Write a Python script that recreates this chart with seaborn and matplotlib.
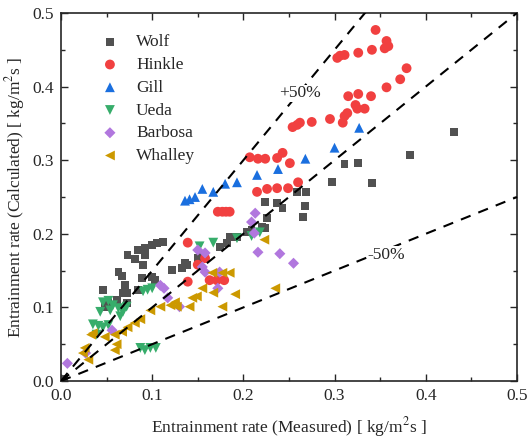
import seaborn as sns
import matplotlib.pyplot as plt
import pandas as pd
from matplotlib.ticker import MultipleLocator

wolf_x = [0.112, 0.105, 0.100, 0.092, 0.084, 0.073, 0.081, 0.092, 0.090, 0.063, 0.067, 0.046,
          0.070, 0.068, 0.048, 0.061, 0.052, 0.072, 0.122, 0.133, 0.138, 0.150, 0.155, 0.103,
          0.100, 0.089, 0.084, 0.073, 0.136, 0.174, 0.182, 0.185, 0.193, 0.204, 0.209, 0.224,
          0.226, 0.220, 0.224, 0.237, 0.243, 0.259, 0.269, 0.265, 0.268, 0.297, 0.341, 0.311,
          0.326, 0.383, 0.431, 0.003]
wolf_y = [0.189, 0.188, 0.185, 0.181, 0.178, 0.171, 0.166, 0.171, 0.158, 0.148, 0.143, 0.124,
          0.130, 0.120, 0.101, 0.110, 0.106, 0.106, 0.151, 0.154, 0.158, 0.167, 0.171, 0.137,
          0.141, 0.140, 0.124, 0.120, 0.160, 0.182, 0.188, 0.196, 0.196, 0.202, 0.205, 0.208,
          0.221, 0.209, 0.243, 0.242, 0.235, 0.257, 0.257, 0.223, 0.238, 0.270, 0.269, 0.295,
          0.296, 0.307, 0.338, 0.003]

hinkle_x = [0.345, 0.357, 0.359, 0.355, 0.341, 0.326, 0.311, 0.306, 0.303,
            0.379, 0.372, 0.357, 0.340, 0.326, 0.315, 0.323, 0.333, 0.325, 0.314, 0.311,
            0.309, 0.295, 0.275, 0.262, 0.259, 0.254,
            0.207, 0.216, 0.224, 0.237, 0.243, 0.251,
            0.215, 0.226, 0.237, 0.249, 0.260,
            0.172, 0.177, 0.181, 0.185,
            0.139, 0.139, 0.150, 0.158, 0.163, 0.171, 0.179]
hinkle_y = [0.477, 0.462, 0.455, 0.452, 0.450, 0.446, 0.443, 0.442, 0.439,
            0.425, 0.410, 0.399, 0.387, 0.390, 0.387, 0.375, 0.370, 0.370, 0.364, 0.360,
            0.351, 0.356, 0.352, 0.351, 0.348, 0.345,
            0.304, 0.302, 0.302, 0.303, 0.310, 0.296,
            0.257, 0.261, 0.262, 0.262, 0.270,
            0.230, 0.230, 0.230, 0.230,
            0.188, 0.135, 0.158, 0.167, 0.137, 0.137, 0.137]

gill_x = [0.136, 0.141, 0.147, 0.155, 0.167, 0.180, 0.193, 0.215, 0.238, 0.268, 0.300, 0.327]
gill_y = [0.245, 0.247, 0.250, 0.261, 0.257, 0.268, 0.270, 0.280, 0.288, 0.302, 0.317, 0.344]

ueda_x = [0.046, 0.052, 0.057, 0.063, 0.068, 0.072, 0.054, 0.043, 0.035, 0.041, 0.046, 0.052,
          0.039, 0.087, 0.092, 0.098, 0.104, 0.090, 0.095, 0.100, 0.152, 0.167, 0.193, 0.209,
          0.218, 0.065]
ueda_y = [0.107, 0.109, 0.103, 0.099, 0.094, 0.101, 0.096, 0.094, 0.077, 0.075, 0.073, 0.076,
          0.063, 0.045, 0.042, 0.045, 0.045, 0.122, 0.124, 0.126, 0.183, 0.188, 0.194, 0.197,
          0.202, 0.088]

barbosa_x = [0.007, 0.027, 0.056, 0.109, 0.113, 0.117, 0.130, 0.150, 0.158, 0.155, 0.158, 0.174,
             0.172, 0.213, 0.209, 0.212, 0.216, 0.240, 0.255]
barbosa_y = [0.024, 0.038, 0.069, 0.130, 0.126, 0.113, 0.101, 0.178, 0.174, 0.155, 0.148, 0.148,
             0.126, 0.228, 0.216, 0.201, 0.175, 0.173, 0.160]

whalley_x = [0.026, 0.030, 0.024, 0.033, 0.035, 0.048, 0.059, 0.061, 0.059, 0.067, 0.073, 0.081,
             0.087, 0.098, 0.109, 0.120, 0.127, 0.125, 0.144, 0.149, 0.155, 0.167, 0.177, 0.141,
             0.166, 0.177, 0.185, 0.191, 0.223, 0.235]
whalley_y = [0.045, 0.029, 0.038, 0.063, 0.065, 0.060, 0.063, 0.050, 0.042, 0.067, 0.073, 0.079,
             0.084, 0.096, 0.101, 0.103, 0.101, 0.107, 0.113, 0.115, 0.126, 0.120, 0.101, 0.101,
             0.147, 0.147, 0.147, 0.118, 0.192, 0.126]

series = [
    ('Wolf', wolf_x, wolf_y, 's', '#515151', 32),
    ('Hinkle', hinkle_x, hinkle_y, 'o', '#F14040', 50),
    ('Gill', gill_x, gill_y, '^', '#1A6FDF', 50),
    ('Ueda', ueda_x, ueda_y, 'v', '#37AD6B', 50),
    ('Barbosa', barbosa_x, barbosa_y, 'D', '#B177DE', 32),
    ('Whalley', whalley_x, whalley_y, '<', '#CC9900', 50),
]

# Líneas de referencia: ideal, +50% y -50%
ref_x = [0.0, 0.5]
ref_factors = [1.0, 1.5, 0.5]

sns.set_style('ticks')
plt.rcParams['font.family'] = ['Liberation Serif', 'DejaVu Serif']
plt.rcParams['mathtext.fontset'] = 'stix'

fig = plt.figure(figsize=(5.28, 4.41), dpi=100)
ax = fig.add_axes([0.1155, 0.136, 0.8635, 0.8345])

for factor in ref_factors:
    ref = pd.DataFrame({'x': ref_x, 'y': [factor * v for v in ref_x]})
    sns.lineplot(data=ref, x='x', y='y', ax=ax, color='black', lw=1.5,
                 dashes=False, zorder=3).lines[-1].set_dashes([5, 4])

for name, xs, ys, mk, col, size in series:
    df = pd.DataFrame({'x': xs, 'y': ys})
    sns.scatterplot(data=df, x='x', y='y', ax=ax, marker=mk, color=col, s=size,
                    edgecolor='none', label=name, zorder=2)

ax.text(0.262, 0.391, '+50%', fontsize=12.5, ha='center', va='center', zorder=4,
        bbox=dict(facecolor='white', edgecolor='none', pad=0.5))
ax.text(0.357, 0.171, '-50%', fontsize=12.5, ha='center', va='center', zorder=4,
        bbox=dict(facecolor='white', edgecolor='none', pad=0.5))

ax.set_xlim(0, 0.5)
ax.set_ylim(0, 0.5)
ax.xaxis.set_major_locator(MultipleLocator(0.1))
ax.yaxis.set_major_locator(MultipleLocator(0.1))
ax.xaxis.set_minor_locator(MultipleLocator(0.05))
ax.yaxis.set_minor_locator(MultipleLocator(0.05))
ax.tick_params(which='both', direction='in', top=True, right=True, labelsize=12.5, width=1)
ax.tick_params(which='major', length=5, pad=5)
ax.tick_params(which='minor', length=3)
for sp in ax.spines.values():
    sp.set_linewidth(1.2)

ax.set_xlabel('Entrainment rate (Measured) [ kg/m$^2$s ]', fontsize=12.5, labelpad=8)
ax.set_ylabel('Entrainment rate (Calculated) [ kg/m$^2$s ]', fontsize=12.5, labelpad=4)

ax.legend(loc='upper left', bbox_to_anchor=(0.035, 0.985), frameon=False, fontsize=12.5,
          handletextpad=0.5, labelspacing=0.38, markerscale=1.0)

fig.savefig('out.png', dpi=100)
